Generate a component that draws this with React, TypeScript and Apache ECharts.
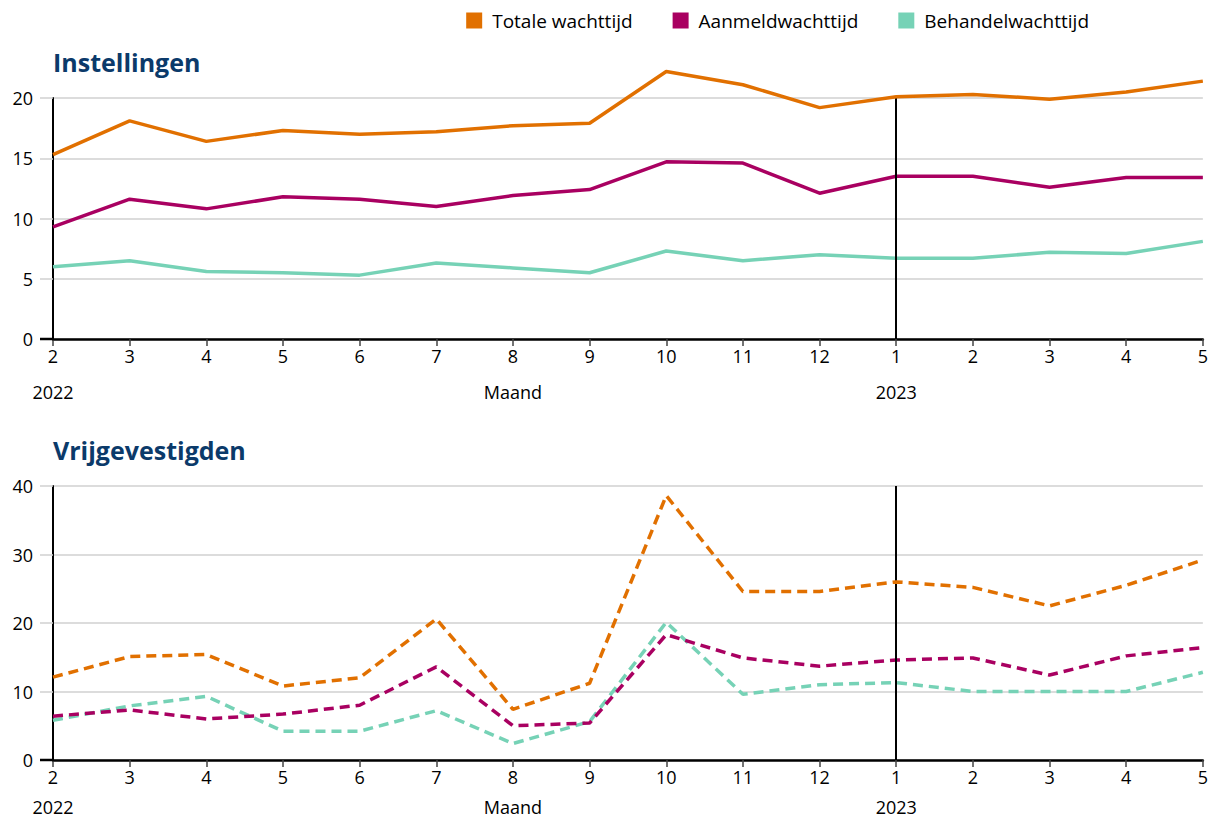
import React, { useEffect, useRef } from "react";
import * as echarts from "echarts";

const months = ["2", "3", "4", "5", "6", "7", "8", "9", "10", "11", "12", "1", "2", "3", "4", "5"];
const subLabels = ["2022", "", "", "", "", "", "Maand", "", "", "", "", "2023", "", "", "", ""];

const instTotaal = [15.3, 18.1, 16.4, 17.3, 17.0, 17.2, 17.7, 17.9, 22.2, 21.1, 19.2, 20.1, 20.3, 19.9, 20.5, 21.4];
const instAanmeld = [9.3, 11.6, 10.8, 11.8, 11.6, 11.0, 11.9, 12.4, 14.7, 14.6, 12.1, 13.5, 13.5, 12.6, 13.4, 13.4];
const instBehandel = [6.0, 6.5, 5.6, 5.5, 5.3, 6.3, 5.9, 5.5, 7.3, 6.5, 7.0, 6.7, 6.7, 7.2, 7.1, 8.1];

const vrijTotaal = [12.1, 15.1, 15.4, 10.8, 12.0, 20.6, 7.4, 11.2, 38.6, 24.6, 24.6, 26.0, 25.2, 22.5, 25.5, 29.2];
const vrijAanmeld = [6.4, 7.3, 6.0, 6.7, 8.0, 13.6, 5.0, 5.4, 18.3, 14.9, 13.7, 14.6, 14.9, 12.4, 15.2, 16.4];
const vrijBehandel = [5.8, 7.9, 9.3, 4.2, 4.2, 7.2, 2.4, 5.6, 20.1, 9.6, 11.0, 11.3, 10.0, 10.0, 10.0, 12.8];

const instTicks = [0, 5, 10, 15, 20];
const vrijTicks = [0, 10, 20, 30, 40];

const seriesNames = ["Totale wachttijd", "Aanmeldwachttijd", "Behandelwachttijd"];
const colors = ["#E17000", "#A90061", "#76D2B6"];
const yearIndex = 11;

const FONT = "'Open Sans', 'Noto Sans', sans-serif";
const TITLE_COLOR = "#0b3a6a";

export default function App() {
  const ref = useRef<HTMLDivElement>(null);

  useEffect(() => {
    document.body.style.margin = "0";
    if (!ref.current) return;
    const chart = echarts.init(ref.current, undefined, { renderer: "svg" });

    const gridLine = { color: "#d0d0d0", width: 1.5 };

    const mainX = (gridIndex: number) => ({
      type: "category",
      gridIndex,
      data: months,
      boundaryGap: false,
      axisLine: { show: true, lineStyle: { color: "#000", width: 2.5 } },
      axisTick: { show: true, alignWithLabel: true, length: 7, lineStyle: { color: "#444", width: 1.5 } },
      axisLabel: { interval: 0, color: "#000", fontSize: 18, fontFamily: FONT, margin: 8 },
      splitLine: { show: false },
    });
    const subX = (gridIndex: number, margin: number) => ({
      type: "category",
      gridIndex,
      data: subLabels,
      boundaryGap: false,
      position: "bottom",
      axisLine: { show: false },
      axisTick: { show: false },
      axisLabel: { interval: 0, color: "#000", fontSize: 18, fontFamily: FONT, margin, lineHeight: 18 },
      splitLine: { show: false },
    });
    const valY = (gridIndex: number, ticks: number[]) => ({
      type: "value",
      gridIndex,
      min: ticks[0],
      max: ticks[ticks.length - 1],
      interval: ticks[1] - ticks[0],
      axisLine: { show: true, lineStyle: { color: "#000", width: 2 } },
      axisTick: { show: true, length: 13, lineStyle: gridLine },
      axisLabel: { color: "#000", fontSize: 18, fontFamily: FONT, margin: 20 },
      splitLine: { show: true, lineStyle: gridLine },
    });

    const mkSeries = (data: number[], i: number, xi: number, yi: number, dashed: boolean, withMark: boolean) => ({
      type: "line",
      name: seriesNames[i],
      xAxisIndex: xi,
      yAxisIndex: yi,
      data,
      clip: false,
      symbol: "none",
      showSymbol: false,
      z: 5 - i,
      lineStyle: { color: colors[i], width: 3.5, type: dashed ? [10, 6] : "solid" },
      itemStyle: { color: colors[i] },
      markLine: withMark
        ? {
            silent: true,
            symbol: ["none", "none"],
            label: { show: false },
            lineStyle: { color: "#000", width: 2, type: "solid" },
            data: [{ xAxis: yearIndex }],
          }
        : undefined,
    });

    chart.setOption({
      animation: false,
      textStyle: { fontFamily: FONT },
      legend: {
        top: 11,
        right: 122,
        padding: 0,
        icon: "rect",
        itemWidth: 16,
        itemHeight: 16,
        itemGap: 40,
        textStyle: { fontSize: 19, color: "#000", fontFamily: FONT, padding: [0, 0, 0, 5] },
        data: seriesNames,
      },
      title: [
        {
          text: "Instellingen",
          left: 53,
          top: 49,
          padding: 0,
          textStyle: { fontSize: 25, fontWeight: "bold", color: TITLE_COLOR, fontFamily: FONT },
        },
        {
          text: "Vrijgevestigden",
          left: 53,
          top: 437,
          padding: 0,
          textStyle: { fontSize: 25, fontWeight: "bold", color: TITLE_COLOR, fontFamily: FONT },
        },
      ],
      grid: [
        { left: 53, right: 8, top: 98, height: 241 },
        { left: 53, right: 8, top: 486, height: 274 },
      ],
      xAxis: [mainX(0), subX(0, 44), mainX(1), subX(1, 38)],
      yAxis: [valY(0, instTicks), valY(1, vrijTicks)],
      series: [
        mkSeries(instTotaal, 0, 0, 0, false, true),
        mkSeries(instAanmeld, 1, 0, 0, false, false),
        mkSeries(instBehandel, 2, 0, 0, false, false),
        mkSeries(vrijTotaal, 0, 2, 1, true, true),
        mkSeries(vrijAanmeld, 1, 2, 1, true, false),
        mkSeries(vrijBehandel, 2, 2, 1, true, false),
      ],
      graphic: [
        { type: "line", z: 100, shape: { x1: 40, y1: 339, x2: 54, y2: 339 }, style: { stroke: "#000", lineWidth: 2.5 } },
        { type: "line", z: 100, shape: { x1: 40, y1: 760, x2: 54, y2: 760 }, style: { stroke: "#000", lineWidth: 2.5 } },
      ],
    });

    return () => chart.dispose();
  }, []);

  return <div ref={ref} style={{ width: 1211, height: 818 }} />;
}
